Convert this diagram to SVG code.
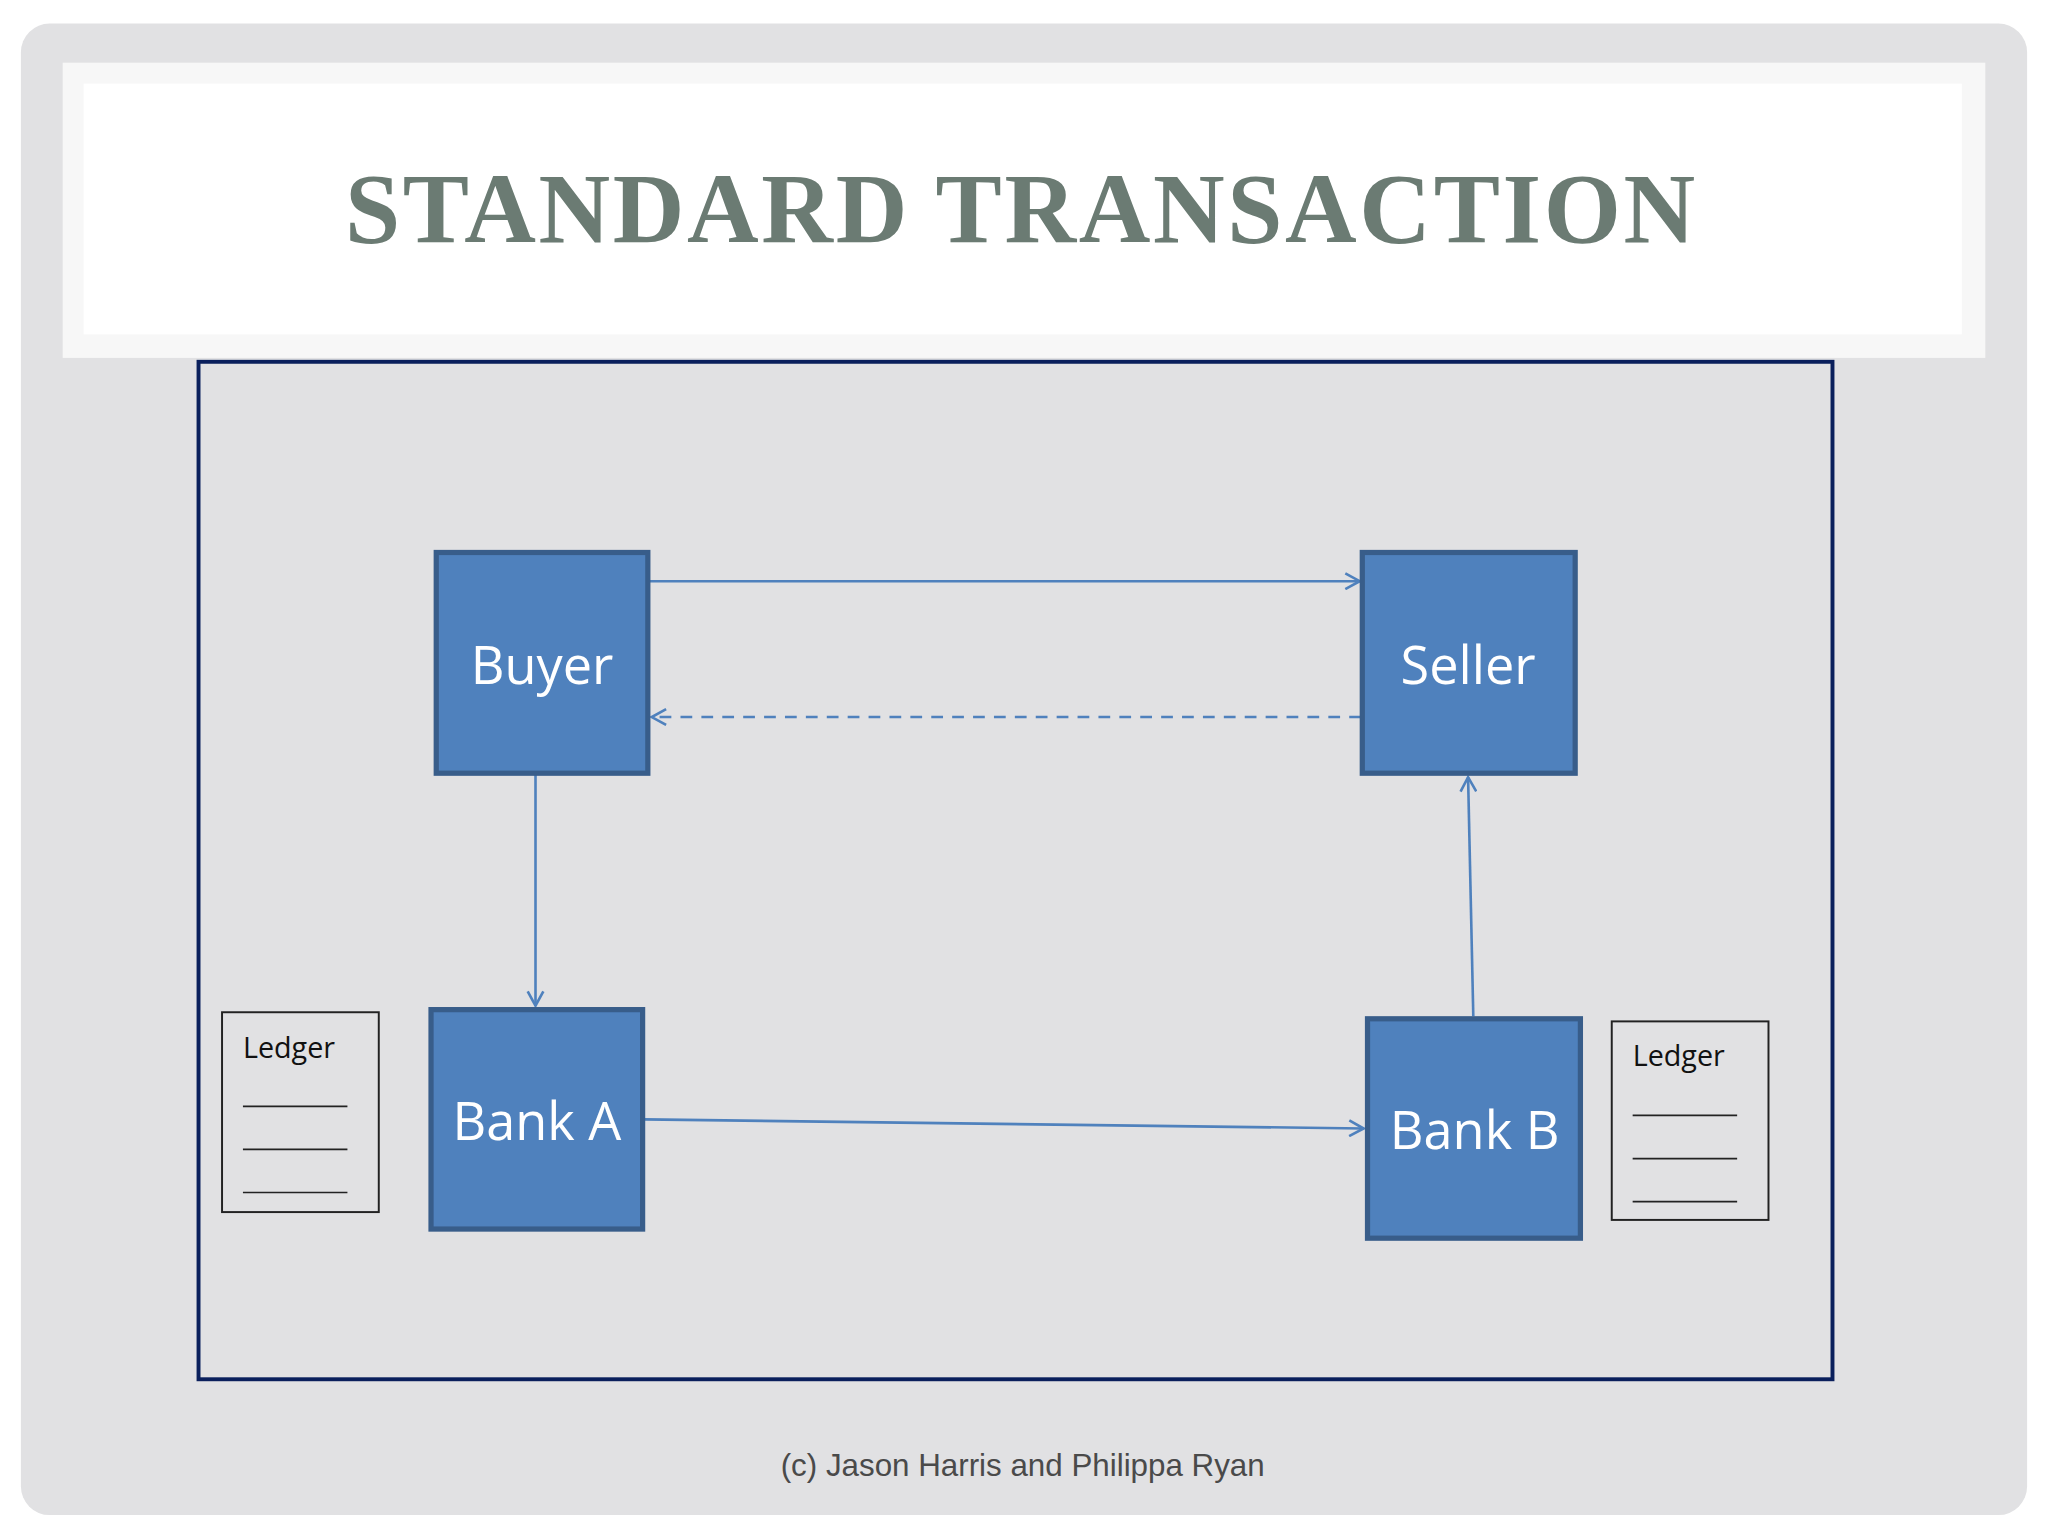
<svg xmlns="http://www.w3.org/2000/svg" width="2048" height="1536" viewBox="0 0 2048 1536">
<defs>
<style>
.node rect{fill:#4f81bd;stroke:#385d8a;stroke-width:4}
.node text{fill:#fff;font-family:"Open Sans","Liberation Sans",sans-serif;font-size:40px;text-anchor:middle}
.c{stroke:#4f81bd;stroke-width:2;fill:none;marker-end:url(#a)}
.led rect{fill:none;stroke:#222;stroke-width:1.5}
.led line{stroke:#222;stroke-width:1.3}
.led text{font-family:"Open Sans","Liberation Sans",sans-serif;font-size:22px;fill:#111}
</style>
<marker id="a" markerWidth="14" markerHeight="14" refX="12" refY="7" orient="auto" markerUnits="userSpaceOnUse">
<path d="M1,1 L12,7 L1,13" fill="none" stroke="#4f81bd" stroke-width="2"/>
</marker>
</defs>
<rect width="2048" height="1536" fill="#fff"/>
<g transform="scale(1.30612)">
<rect x="16" y="18" width="1536" height="1142" rx="22" fill="#e1e1e3"/>
<rect x="48" y="48" width="1472" height="226" fill="#f7f7f7"/>
<rect x="64" y="64" width="1438" height="192" fill="#fff"/>
<text x="782" y="185" text-anchor="middle" font-family="Liberation Serif,serif" font-weight="bold" font-size="76" fill="#6b7b73" letter-spacing="2">STANDARD TRANSACTION</text>
<rect x="152" y="277" width="1251" height="779" fill="none" stroke="#0a1f5c" stroke-width="3"/>
<g id="connectors">
<line class="c" x1="497" y1="445" x2="1041" y2="445"/>
<line class="c" x1="1042" y1="549" x2="499" y2="549" stroke-dasharray="9,7"/>
<line class="c" x1="410" y1="593" x2="410" y2="770"/>
<line class="c" x1="1128" y1="778" x2="1124" y2="595"/>
<line class="c" x1="493" y1="857" x2="1044" y2="864"/>
</g>
<g id="buyer" class="node"><rect x="334" y="423" width="162" height="169"/><text x="415" y="524">Buyer</text></g>
<g id="seller" class="node"><rect x="1043" y="423" width="163" height="169"/><text x="1124" y="524">Seller</text></g>
<g id="bankA" class="node"><rect x="330" y="773" width="162" height="168"/><text x="411" y="873">Bank A</text></g>
<g id="bankB" class="node"><rect x="1047" y="780" width="163" height="168"/><text x="1129" y="880">Bank B</text></g>
<g id="ledgerA" class="led"><rect x="170" y="775" width="120" height="153"/><text x="186" y="810">Ledger</text>
<line x1="186" y1="847" x2="266" y2="847"/><line x1="186" y1="880" x2="266" y2="880"/><line x1="186" y1="913" x2="266" y2="913"/></g>
<g id="ledgerB" class="led"><rect x="1234" y="782" width="120" height="152"/><text x="1250" y="816">Ledger</text>
<line x1="1250" y1="854" x2="1330" y2="854"/><line x1="1250" y1="887" x2="1330" y2="887"/><line x1="1250" y1="920" x2="1330" y2="920"/></g>
<text x="783" y="1130" text-anchor="middle" font-family="Liberation Sans,sans-serif" font-size="24" fill="#4a4a4a">(c) Jason Harris and Philippa Ryan</text>
</g>
</svg>
